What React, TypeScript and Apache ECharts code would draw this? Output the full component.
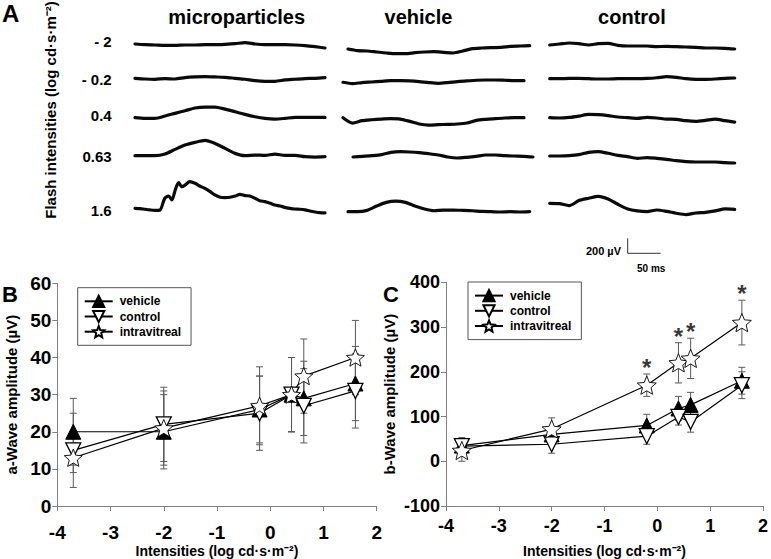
import React, { useEffect, useRef } from "react";
import * as echarts from "echarts";

// ---------- Panel A: column titles and flash intensities ----------
const COLUMNS = ["microparticles", "vehicle", "control"];
const ROW_LABELS = ["- 2", "- 0.2", "0.4", "0.63", "1.6"];

const MP_M2 = [0, -9, -13, -18, -18, -13, -13, -9, -9, -4, 4, 18, 0, -9, -9, -9, -13, -22, -36, -53];
const MP_M02 = [0, -9, -13, -4, -9, 9, 18, 22, 18, 13, 0, -13, -31, -40, -40, -22, -13, -4, 0, 9];
const MP_04 = [0, -9, -9, 22, 58, 93, 129, 142, 142, 115, 80, 44, 13, -9, -18, -9, 4, 4, 4, 4];
const MP_063 = [0, 0, 0, 22, 84, 142, 178, 204, 164, 98, 31, 0, 9, 4, 22, 4, 4, -13, -18, -13];
// microparticles 1.6: time (ms) and value (µV)
const MP_16_T = [0, 8, 15, 23, 30, 38, 45, 51, 56, 61, 66, 71, 76, 83, 91, 98, 106, 114, 121, 129, 136, 144, 152, 159, 167, 174, 182, 189, 197, 205, 212, 220, 227, 235, 242, 250, 258, 265, 273, 280, 288];
const MP_16_V = [0, -4, -13, -22, -27, -22, 133, 164, 111, 244, 342, 289, 311, 355, 333, 297, 266, 222, 178, 147, 142, 147, 164, 186, 169, 164, 133, 102, 89, 67, 44, 31, 13, 0, -9, -13, -22, -36, -49, -58, -62];

const VH_M2 = [0, -22, -27, -40, -53, -62, -62, -49, -40, -36, -44, -53, -27, 4, 13, 18, 22, 36, 40, 44];
const VH_M02 = [0, -18, -4, 4, 13, 22, 22, 18, 9, -4, -13, -4, 9, 18, 27, 31, 31, 27, 22, 22];
const VH_04 = [0, -71, -40, -27, -18, -13, -18, -49, -84, -98, -93, -89, -84, -71, -36, -22, -13, -4, 0, 0];
const VH_063 = [0, 9, 18, 31, 62, 71, 67, 58, 44, 27, 0, -13, -4, 9, 27, 27, 18, 13, 9, 0];
const VH_16 = [0, 0, 18, 75, 124, 142, 124, 75, 36, 13, 22, 22, 18, 13, 4, 0, -4, 0, -4, 0];

const CT_M2 = [0, 13, 27, 18, 0, 18, 22, -4, -13, -13, -13, -22, -18, -22, -27, -31, -40, -40, -44, -53];
const CT_M02 = [0, 0, 4, 4, 0, -4, -4, 0, 0, 0, 4, 13, 27, 18, 0, -9, -9, -4, 4, 9];
const CT_04 = [0, -4, 4, 22, 44, 40, 27, 9, 0, -9, 4, -4, -18, -22, -40, -49, -36, -18, -40, -58];
const CT_063 = [0, 0, 4, 18, 49, 58, 36, 9, -9, -31, -22, -31, -44, -62, -75, -80, -80, -80, -89, -93];
const CT_16 = [0, -4, -31, 36, 67, 93, 58, -13, -75, -102, -111, -89, -107, -133, -151, -129, -120, -102, -75, -80];

// ---------- Panels B and C ----------
const X_INT = [-3.7, -2, -0.2, 0.4, 0.63, 1.6];
const SERIES_NAMES = ["vehicle", "control", "intravitreal"];

const A_VEHICLE = [20, 20, 26, 30, 29, 33];
const A_VEHICLE_ERR = [9, 10, 9, 10, 10, 10];
const A_CONTROL = [15, 22, 25, 30, 27, 31];
const A_CONTROL_ERR = [10, 10, 10, 10, 10, 10];
const A_INTRA = [13, 21, 27, 30, 35, 40];
const A_INTRA_ERR = [4, 10, 10.5, 10, 10, 10];

const B_VEHICLE = [35, 60, 80, 118, 126, 180];
const B_VEHICLE_ERR = [18, 10, 25, 27, 28, 30];
const B_CONTROL = [34, 38, 56, 99, 88, 170];
const B_CONTROL_ERR = [12, 20, 18, 18, 23, 30];
const B_INTRA = [24, 72, 170, 220, 230, 310];
const B_INTRA_ERR = [24, 25, 25, 45, 45, 50];

const SIGNIF_X = [-0.2, 0.4, 0.63, 1.6];

// ---------- layout ----------
const FONT = '"Liberation Sans", Arial, Helvetica, sans-serif';
const TRACE_MIN = -300;
const TRACE_MAX = 500;
const PX_PER_UV = 15 / 200;
const TRACE_BOX = [
  [[135, 325, 44], [135, 325, 78.3], [135, 325, 117.7], [135, 325, 155.7], [135, 325, 208.3]],
  [[348, 529.7, 49], [343, 524, 82.3], [343, 524, 117.7], [353, 533, 157], [348, 529.7, 211.7]],
  [[549.7, 734.7, 45], [549.7, 734.7, 78.7], [549.7, 734.7, 117.7], [549.7, 734.7, 156], [549.7, 734.7, 203.3]],
];
const COLUMN_X = [236.7, 418.5, 632];
const ROW_Y = [41.7, 79, 115.7, 156.7, 210.7];

const STAR = "path://M12,1 L15.1,8.6 L23.3,9.3 L17.1,14.7 L19,22.7 L12,18.5 L5,22.7 L6.9,14.7 L0.7,9.3 L8.9,8.6 Z";
const X_NAME = "Intensities (log cd·s·m⁻²)";

function buildOption() {
  const traceData: any[][] = [
    [MP_M2, MP_M02, MP_04, MP_063, null],
    [VH_M2, VH_M02, VH_04, VH_063, VH_16],
    [CT_M2, CT_M02, CT_04, CT_063, CT_16],
  ];
  const grid: any[] = [];
  const xAxis: any[] = [];
  const yAxis: any[] = [];
  const series: any[] = [];

  traceData.forEach((col, c) => {
    col.forEach((arr, r) => {
      const [x0, x1, y0] = TRACE_BOX[c][r];
      const idx = grid.length;
      grid.push({
        left: x0,
        width: x1 - x0,
        top: y0 - TRACE_MAX * PX_PER_UV,
        height: (TRACE_MAX - TRACE_MIN) * PX_PER_UV,
      });
      let data: number[][];
      let xmax: number;
      if (arr) {
        data = arr.map((v: number, i: number) => [i, v]);
        xmax = arr.length - 1;
      } else {
        data = MP_16_T.map((t, i) => [t, MP_16_V[i]]);
        xmax = MP_16_T[MP_16_T.length - 1];
      }
      xAxis.push({ type: "value", gridIndex: idx, min: 0, max: xmax, show: false });
      yAxis.push({ type: "value", gridIndex: idx, min: TRACE_MIN, max: TRACE_MAX, show: false });
      series.push({
        type: "line",
        name: `trace ${COLUMNS[c]} ${ROW_LABELS[r]}`,
        xAxisIndex: idx,
        yAxisIndex: idx,
        data,
        symbol: "none",
        smooth: 0.25,
        clip: false,
        silent: true,
        lineStyle: { color: "#0a0a0a", width: 3.2, join: "round", cap: "round" },
      });
    });
  });

  const axisGray = "#808080";
  const makePanel = (
    gridDef: any,
    yMin: number,
    yMax: number,
    yInt: number,
    yName: string,
    yNameGap: number,
    labelSize: number,
    xLabelMargin: number,
    xNameGap: number,
  ) => {
    const idx = grid.length;
    grid.push(gridDef);
    xAxis.push({
      type: "value",
      gridIndex: idx,
      min: -4,
      max: 2,
      interval: 1,
      axisLine: { show: true, onZero: false, lineStyle: { color: axisGray, width: 1 } },
      axisTick: { show: true, length: 5, lineStyle: { color: axisGray } },
      splitLine: { show: false },
      axisLabel: {
        color: "#000",
        fontSize: labelSize,
        fontWeight: "bold",
        fontFamily: FONT,
        margin: xLabelMargin,
      },
      name: X_NAME,
      nameLocation: "middle",
      nameGap: xNameGap,
      nameTextStyle: { color: "#000", fontSize: 14, fontWeight: "bold", fontFamily: FONT },
    });
    yAxis.push({
      type: "value",
      gridIndex: idx,
      min: yMin,
      max: yMax,
      interval: yInt,
      axisLine: { show: true, onZero: false, lineStyle: { color: axisGray, width: 1 } },
      axisTick: { show: true, length: 5, lineStyle: { color: axisGray } },
      splitLine: { show: false },
      axisLabel: {
        color: "#000",
        fontSize: labelSize,
        fontWeight: "bold",
        fontFamily: FONT,
        margin: 6,
      },
      name: yName,
      nameLocation: "middle",
      nameGap: yNameGap,
      nameTextStyle: { color: "#000", fontSize: 15, fontWeight: "bold", fontFamily: FONT },
    });
    return idx;
  };

  const bIdx = makePanel(
    { left: 57.3, top: 283.3, width: 319.4, height: 223.4 },
    0, 60, 10, "a-Wave amplitude (µV)", 38, 19, 17, 38,
  );
  const cIdx = makePanel(
    { left: 446, top: 282.3, width: 320.7, height: 224.4 },
    -100, 400, 100, "b-Wave amplitude (µV)", 49, 18, 11, 38,
  );

  const errorSeries = (idx: number, vals: number[], errs: number[], name: string) => ({
    type: "custom",
    name: `${name} error`,
    xAxisIndex: idx,
    yAxisIndex: idx,
    silent: true,
    z: 1,
    encode: { x: 0, y: [1, 2] },
    data: X_INT.map((x, i) => [x, vals[i] - errs[i], vals[i] + errs[i]]),
    renderItem: (params: any, api: any) => {
      const x = api.value(0);
      const lo = api.coord([x, api.value(1)]);
      const hi = api.coord([x, api.value(2)]);
      const w = 3.5;
      const style = { stroke: "#5a5a5a", lineWidth: 1, fill: null };
      return {
        type: "group",
        children: [
          { type: "line", shape: { x1: lo[0], y1: lo[1], x2: hi[0], y2: hi[1] }, style },
          { type: "line", shape: { x1: lo[0] - w, y1: lo[1], x2: lo[0] + w, y2: lo[1] }, style },
          { type: "line", shape: { x1: hi[0] - w, y1: hi[1], x2: hi[0] + w, y2: hi[1] }, style },
        ],
      };
    },
  });

  const lineSeries = (idx: number, name: string, vals: number[], big: boolean) => {
    const base: any = {
      type: "line",
      name,
      xAxisIndex: idx,
      yAxisIndex: idx,
      z: 3,
      data: X_INT.map((x, i) => [x, vals[i]]),
      lineStyle: { color: "#000", width: 1.2 },
      symbolKeepAspect: true,
    };
    if (name === "vehicle") {
      return { ...base, symbol: "triangle", symbolSize: big ? 15 : 15, itemStyle: { color: "#000", borderColor: "#000", borderWidth: 1 } };
    }
    if (name === "control") {
      return { ...base, symbol: "triangle", symbolRotate: 180, symbolSize: big ? 15 : 15, itemStyle: { color: "#fff", borderColor: "#000", borderWidth: 1.3 } };
    }
    return { ...base, symbol: STAR, symbolSize: big ? 19 : 18, itemStyle: { color: "#fff", borderColor: "#000", borderWidth: 0.9 } };
  };

  const aVals = [A_VEHICLE, A_CONTROL, A_INTRA];
  const aErrs = [A_VEHICLE_ERR, A_CONTROL_ERR, A_INTRA_ERR];
  const bVals = [B_VEHICLE, B_CONTROL, B_INTRA];
  const bErrs = [B_VEHICLE_ERR, B_CONTROL_ERR, B_INTRA_ERR];

  SERIES_NAMES.forEach((n, k) => series.push(errorSeries(bIdx, aVals[k], aErrs[k], `a ${n}`)));
  SERIES_NAMES.forEach((n, k) => series.push(errorSeries(cIdx, bVals[k], bErrs[k], `b ${n}`)));
  SERIES_NAMES.forEach((n, k) => series.push(lineSeries(bIdx, n, aVals[k], false)));
  SERIES_NAMES.forEach((n, k) => series.push(lineSeries(cIdx, n, bVals[k], true)));

  // significance asterisks above intravitreal error bars (panel C)
  series.push({
    type: "scatter",
    name: "significance",
    xAxisIndex: cIdx,
    yAxisIndex: cIdx,
    silent: true,
    symbolSize: 1,
    itemStyle: { color: "rgba(0,0,0,0)" },
    data: SIGNIF_X.map((x) => {
      const i = X_INT.indexOf(x);
      return [x, B_INTRA[i] + B_INTRA_ERR[i] + 14];
    }),
    label: {
      show: true,
      position: "inside",
      formatter: "*",
      color: "#000",
      fontSize: 24,
      fontWeight: "bold",
      fontFamily: FONT,
    },
  });

  const legendBase = {
    orient: "vertical",
    data: SERIES_NAMES,
    selectedMode: false,
    padding: [7, 10, 7, 6],
    itemGap: 2,
    itemWidth: 28,
    itemHeight: 14,
    borderColor: "#555",
    borderWidth: 1,
    backgroundColor: "#fff",
    textStyle: { color: "#000", fontSize: 12, fontWeight: "bold", fontFamily: FONT, padding: [0, 0, 0, 2] },
  };

  const graphic: any[] = [
    { type: "text", left: 2, top: 1, style: { text: "A", fontSize: 24, fontWeight: "bold", fontFamily: FONT, fill: "#000" } },
    { type: "text", left: 2, top: 283, style: { text: "B", fontSize: 22, fontWeight: "bold", fontFamily: FONT, fill: "#000" } },
    { type: "text", left: 383, top: 283, style: { text: "C", fontSize: 22, fontWeight: "bold", fontFamily: FONT, fill: "#000" } },
    {
      type: "text",
      x: 50,
      y: 110,
      rotation: Math.PI / 2,
      style: {
        text: "Flash intensities (log cd·s·m⁻²)",
        fontSize: 15,
        fontWeight: "bold",
        fontFamily: FONT,
        fill: "#000",
        align: "center",
        verticalAlign: "middle",
      },
    },
    ...COLUMNS.map((t, i) => ({
      type: "text",
      x: COLUMN_X[i],
      y: 16.5,
      style: { text: t, fontSize: 20, fontWeight: "bold", fontFamily: FONT, fill: "#000", align: "center", verticalAlign: "middle" },
    })),
    ...ROW_LABELS.map((t, i) => ({
      type: "text",
      x: 111.7,
      y: ROW_Y[i],
      style: { text: t, fontSize: 15, fontWeight: "bold", fontFamily: FONT, fill: "#000", align: "right", verticalAlign: "middle" },
    })),
    // scale bar
    { type: "line", shape: { x1: 627.7, y1: 238.3, x2: 627.7, y2: 253.3 }, style: { stroke: "#333", lineWidth: 1 } },
    { type: "line", shape: { x1: 627.7, y1: 253.3, x2: 660.7, y2: 253.3 }, style: { stroke: "#333", lineWidth: 1 } },
    { type: "text", x: 621, y: 251, style: { text: "200 µV", fontSize: 11, fontWeight: "bold", fontFamily: FONT, fill: "#000", align: "right", verticalAlign: "middle" } },
    { type: "text", x: 637, y: 268, style: { text: "50 ms", fontSize: 10, fontWeight: "bold", fontFamily: FONT, fill: "#000", align: "left", verticalAlign: "middle" } },
  ];

  return {
    animation: false,
    backgroundColor: "#fff",
    textStyle: { fontFamily: FONT },
    grid,
    xAxis,
    yAxis,
    series,
    legend: [
      { ...legendBase, left: 77.7, top: 287.7 },
      { ...legendBase, left: 468, top: 282 },
    ],
    graphic,
  };
}

export default function App() {
  const ref = useRef<HTMLDivElement>(null);
  useEffect(() => {
    if (!ref.current) return;
    const chart = echarts.init(ref.current, undefined, { renderer: "svg" });
    chart.setOption(buildOption() as any);
    return () => chart.dispose();
  }, []);
  return (
    <div
      ref={ref}
      style={{ position: "absolute", left: 0, top: 0, width: 771, height: 559, background: "#fff" }}
    />
  );
}
